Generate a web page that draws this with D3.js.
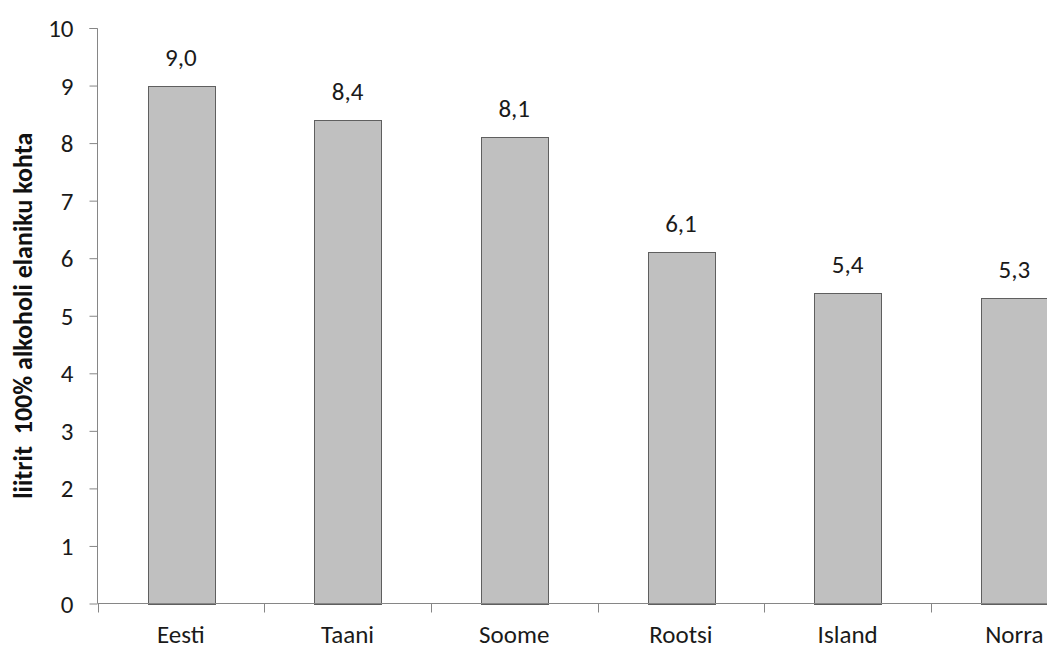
<!DOCTYPE html>
<html>
<head>
<meta charset="utf-8">
<script src="https://cdn.jsdelivr.net/npm/d3@7"></script>
<style>
  html, body { margin: 0; padding: 0; background: #fff; overflow: hidden; }
  svg { display: block; font-family: Carlito, Lato, sans-serif; }
</style>
</head>
<body>
<svg id="chart" width="1047" height="650"></svg>
<script>
// Alcohol consumption per inhabitant, litres of pure (100%) alcohol
const countries = ["Eesti", "Taani", "Soome", "Rootsi", "Island", "Norra"];
const litres = [9.0, 8.4, 8.1, 6.1, 5.4, 5.3];
const yTicks = [0, 1, 2, 3, 4, 5, 6, 7, 8, 9, 10];
const yTitle = "liitrit  100% alkoholi elaniku kohta";

const svg = d3.select("#chart");
const plotLeft = 97.5, plotTop = 28, plotBottom = 603.5;
const bandW = 166.7;
const FONT = "Carlito, Lato, sans-serif";

// The category axis runs past the right edge of the page
const x = d3.scaleBand()
  .domain(countries)
  .range([plotLeft, plotLeft + bandW * countries.length])
  .paddingInner(0.6)
  .paddingOuter(0.3);

const y = d3.scaleLinear().domain([0, 10]).range([plotBottom, plotTop]);

const fmt = v => d3.format(".1f")(v).replace(".", ",");

// Bars
svg.append("g").selectAll("rect")
  .data(countries)
  .join("rect")
  .attr("x", (d) => Math.round(x(d)) + 0.5)
  .attr("y", (d, i) => Math.round(y(litres[i])) + 0.5)
  .attr("width", Math.round(x.bandwidth()))
  .attr("height", (d, i) => Math.round(y(0)) - Math.round(y(litres[i])))
  .attr("fill", "#c0c0c0")
  .attr("stroke", "#5f5f5f")
  .attr("stroke-width", 1);

// Value labels
svg.append("g").selectAll("text")
  .data(countries)
  .join("text")
  .attr("x", d => x(d) + x.bandwidth() / 2)
  .attr("y", (d, i) => y(litres[i]) - 20)
  .attr("text-anchor", "middle")
  .attr("font-size", 25)
  .attr("fill", "#1a1a1a")
  .text((d, i) => fmt(litres[i]));

// Y axis
const yAxis = d3.axisLeft(y).tickValues(yTicks).tickSize(8).tickPadding(16)
  .tickFormat(d3.format("d"));
const gy = svg.append("g").attr("transform", `translate(${plotLeft},0)`).call(yAxis);
gy.attr("font-family", FONT).attr("font-size", 25);
gy.select(".domain").attr("stroke", "#868686").attr("d", `M-8,${plotTop + 0.5}H0V${plotBottom}`);
gy.selectAll(".tick line").attr("stroke", "#868686");
gy.selectAll(".tick text").attr("fill", "#1a1a1a").attr("dy", "0.34em");

// X axis: ticks sit between categories
const gx = svg.append("g").attr("transform", `translate(0,${plotBottom})`);
gx.append("line")
  .attr("x1", plotLeft).attr("x2", plotLeft + bandW * countries.length)
  .attr("stroke", "#868686");
const boundaries = d3.range(countries.length + 1).map(i => plotLeft + bandW * i);
gx.selectAll("line.tk")
  .data(boundaries)
  .join("line")
  .attr("class", "tk")
  .attr("x1", d => Math.round(d) + 0.5).attr("x2", d => Math.round(d) + 0.5)
  .attr("y1", 0).attr("y2", 9)
  .attr("stroke", "#868686");
gx.selectAll("text")
  .data(countries)
  .join("text")
  .attr("x", d => x(d) + x.bandwidth() / 2)
  .attr("y", 39.5)
  .attr("text-anchor", "middle")
  .attr("font-size", 25)
  .attr("fill", "#1a1a1a")
  .text(d => d);

// Y axis title
svg.append("text")
  .attr("transform", `translate(32,${(plotTop + plotBottom) / 2}) rotate(-90)`)
  .attr("text-anchor", "middle")
  .attr("font-size", 26)
  .attr("font-weight", "bold")
  .attr("fill", "#111")
  .attr("xml:space", "preserve")
  .style("white-space", "pre")
  .text(yTitle);
</script>
</body>
</html>
